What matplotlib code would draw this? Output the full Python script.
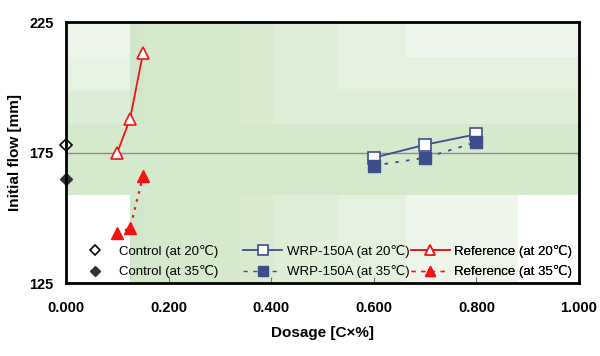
import matplotlib
matplotlib.use("Agg")
import matplotlib.pyplot as plt
from matplotlib.patches import Rectangle
from matplotlib.lines import Line2D

plt.rcParams['font.family'] = ['Liberation Sans', 'DejaVu Sans']

# ---- data ----
control_x = [0.0]
control_20 = [178]
control_35 = [165]

wrp_x = [0.6, 0.7, 0.8]
wrp_20 = [173, 178, 182]
wrp_35 = [170, 173, 179]

ref_x = [0.10, 0.125, 0.15]
ref_20 = [175, 188, 213]
ref_35 = [144, 146, 166]

labels = ["Control (at 20℃)", "Control (at 35℃)",
          "WRP-150A (at 20℃)", "WRP-150A (at 35℃)",
          "Reference (at 20℃)", "Reference (at 35℃)"]

xticks = [0.0, 0.2, 0.4, 0.6, 0.8, 1.0]
yticks = [125, 175, 225]

NAVY = '#3d4f8b'
RED = '#f01414'

fig = plt.figure(figsize=(6.0, 3.56), dpi=100)
ax = fig.add_axes([0.11, 0.205, 0.855, 0.733])
ax.set_xlim(0, 1)
ax.set_ylim(125, 225)

# ---- decorative green background ----
cx = [0, 0.125, 0.154, 0.337, 0.403, 0.530, 0.663, 0.882, 1.0]
ry = [225, 211.7, 198.7, 185.9, 158.7, 125]
g1, g2, g3, g4, g5, g6, g7 = '#d2e7c9', '#d5e9cd', '#d8ebd0', '#deeed7', '#e4f1df', '#eef6eb', '#ffffff'
rows = [
    [g6, g1, g2, g3, g4, g5, g6, g6],
    ['#e6f2e2', g1, g2, g3, g4, g5, g5, g5],
    ['#dcedd5', g1, g2, g3, g4, g4, g4, g4],
    [g2, g2, g2, g2, g2, g2, g2, g2],
    [g7, g1, g2, g3, g4, g5, g6, g7],
]
for ri, row in enumerate(rows):
    y_top, y_bot = ry[ri], ry[ri + 1]
    for ci, col in enumerate(row):
        ax.add_patch(Rectangle((cx[ci], y_bot), cx[ci + 1] - cx[ci], y_top - y_bot,
                               facecolor=col, edgecolor='none', zorder=0))

ax.axhline(175, color='#8c8c8c', lw=1.0, zorder=1)

# ---- series ----
ax.plot(wrp_x, wrp_20, color=NAVY, lw=1.3, marker='s', ms=8, mfc='white',
        mec=NAVY, mew=1.2, zorder=3)
ax.plot(wrp_x, wrp_35, color=NAVY, lw=1.3, ls=(0, (2, 4)), marker='s', ms=8,
        mfc=NAVY, mec=NAVY, zorder=4)
ax.plot(ref_x, ref_20, color=RED, lw=1.3, marker='^', ms=8.5, mfc='white',
        mec=RED, mew=1.2, zorder=3)
ax.plot(ref_x, ref_35, color=RED, lw=1.6, ls=(0, (1.2, 2.5)), marker='^', ms=8.5,
        mfc=RED, mec=RED, zorder=4)
ax.plot(control_x, control_20, ls='none', marker='D', ms=6.5, mfc='white',
        mec='black', mew=1.2, zorder=5, clip_on=False)
ax.plot(control_x, control_35, ls='none', marker='D', ms=6.5, mfc='#2f2f3a',
        mec='#2f2f3a', zorder=5, clip_on=False)

# ---- legend (three columns) ----
h_c20 = Line2D([], [], ls='none', marker='D', ms=5.5, mfc='white', mec='black', mew=1.2)
h_c35 = Line2D([], [], ls='none', marker='D', ms=5.5, mfc='#2f2f3a', mec='#2f2f3a')
h_w20 = Line2D([], [], color=NAVY, lw=1.3, marker='s', ms=7, mfc='white', mec=NAVY, mew=1.2)
h_w35 = Line2D([], [], color=NAVY, lw=1.0, ls=(0, (3, 4)), marker='s', ms=7, mfc=NAVY, mec=NAVY)
h_r20 = Line2D([], [], color=RED, lw=1.3, marker='^', ms=7.5, mfc='white', mec=RED, mew=1.2)
h_r35 = Line2D([], [], color=RED, lw=1.0, ls=(0, (3, 4)), marker='^', ms=7.5, mfc=RED, mec=RED)

leg_kw = dict(frameon=False, fontsize=9.5, handlelength=2.95, handletextpad=0.32,
              labelspacing=0.55, borderpad=0, borderaxespad=0, loc='lower left')
groups = [([h_c20, h_c35], labels[0:2], 0.0186),
          ([h_w20, h_w35], labels[2:4], 0.346),
          ([h_r20, h_r35], labels[4:6], 0.672)]
for hs, ls_, x0 in groups:
    lg = ax.legend(hs, ls_, bbox_to_anchor=(x0, 0.018), **leg_kw)
    ax.add_artist(lg)

# ---- axes styling ----
ax.set_xticks(xticks)
ax.set_xticklabels([f"{v:.3f}" for v in xticks])
ax.set_yticks(yticks)
for s in ax.spines.values():
    s.set_linewidth(2.0)
    s.set_color('black')
    s.set_zorder(6)
ax.tick_params(axis='x', direction='in', length=4, width=0.8, color='#777777', pad=13,
               labelsize=10.5)
ax.tick_params(axis='y', direction='in', length=0, pad=9, labelsize=10.5)
for t in ax.get_xticklabels() + ax.get_yticklabels():
    t.set_fontweight('bold')
ax.set_xlabel("Dosage [C×%]", fontsize=11, fontweight='bold', labelpad=8)
ax.set_ylabel("Initial flow [mm]", fontsize=11, fontweight='bold', labelpad=5)

fig.savefig("out.png", dpi=100)
